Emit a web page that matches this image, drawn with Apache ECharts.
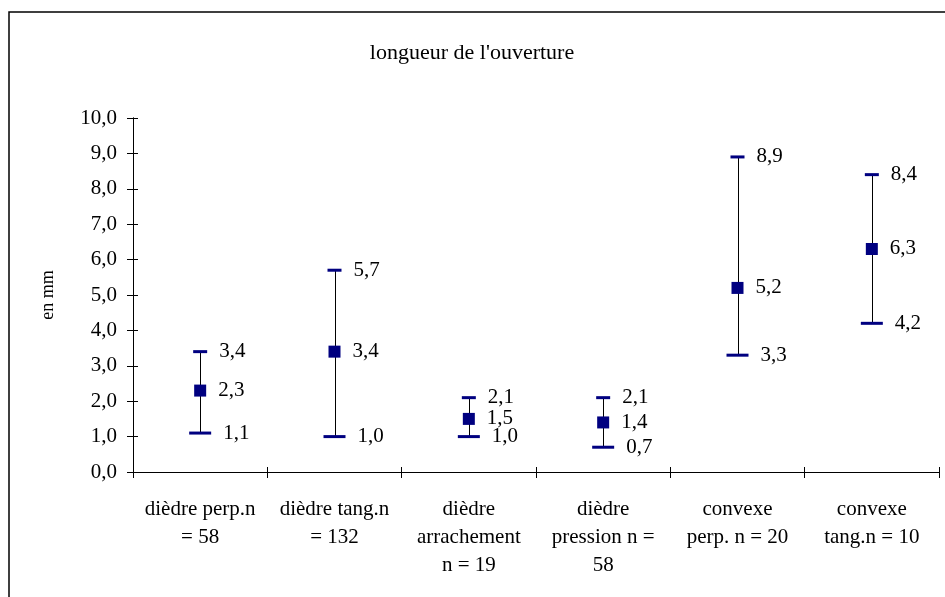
<!DOCTYPE html>
<html>
<head>
<meta charset="utf-8">
<script src="https://cdn.jsdelivr.net/npm/echarts@6/dist/echarts.min.js"></script>
<style>
  html, body { margin: 0; padding: 0; background: #fff; }
  #chart { width: 945px; height: 597px; }
</style>
</head>
<body>
<div id="chart"></div>
<script>
// Opening length per edge type: max, mean and min, in mm
const categories = [
  'dièdre perp.n\n= 58',
  'dièdre tang.n\n= 132',
  'dièdre\narrachement\nn = 19',
  'dièdre\npression n =\n58',
  'convexe\nperp. n = 20',
  'convexe\ntang.n = 10'
];
const maxValues  = [3.4, 5.7, 2.1, 2.1, 8.9, 8.4];
const meanValues = [2.3, 3.4, 1.5, 1.4, 5.2, 6.3];
const minValues  = [1.1, 1.0, 1.0, 0.7, 3.3, 4.2];
const yTicks = [0, 1, 2, 3, 4, 5, 6, 7, 8, 9, 10];

const FONT = '"Liberation Serif", "Times New Roman", serif';
const NAVY = '#000080';
const fmt = v => v.toFixed(1).replace('.', ',');

const chart = echarts.init(document.getElementById('chart'), null, { renderer: 'canvas' });

const markLabel = {
  show: true,
  position: 'right',
  distance: 12,
  color: '#000',
  fontFamily: FONT,
  fontSize: 21,
  formatter: p => fmt(p.value)
};

const whiskers = categories.map((c, i) => [i, minValues[i], maxValues[i]]);

// Second axis of each direction only carries the inward half of the tick marks
const innerTicks = { show: true, inside: true, length: 5, lineStyle: { color: '#000', width: 1 } };

chart.setOption({
  animation: false,
  backgroundColor: '#fff',
  title: {
    text: "longueur de l'ouverture",
    left: 467,
    textAlign: 'center',
    top: 37,
    textStyle: { fontFamily: FONT, fontSize: 22, fontWeight: 'normal', color: '#000' }
  },
  graphic: [{
    type: 'rect',
    shape: { x: 9, y: 12, width: 950, height: 600 },
    style: { fill: 'none', stroke: '#000', lineWidth: 1.5 },
    silent: true
  }],
  grid: { left: 133, right: 6, top: 118, bottom: 125 },
  xAxis: [{
    type: 'category',
    data: categories,
    axisLine: { lineStyle: { color: '#000', width: 1 } },
    axisTick: { show: true, length: 6, lineStyle: { color: '#000' } },
    axisLabel: {
      color: '#000', fontFamily: FONT, fontSize: 21, lineHeight: 28,
      margin: 23, interval: 0
    },
    splitLine: { show: false }
  }, {
    type: 'category',
    data: categories,
    position: 'bottom',
    axisLine: { show: true, lineStyle: { color: '#000', width: 1 } },
    axisTick: innerTicks,
    axisLabel: { show: false },
    splitLine: { show: false }
  }],
  yAxis: [{
    type: 'value',
    min: yTicks[0],
    max: yTicks[yTicks.length - 1],
    interval: 1,
    name: 'en mm',
    nameLocation: 'middle',
    nameGap: 76,
    nameTextStyle: { color: '#000', fontFamily: FONT, fontSize: 18 },
    axisLine: { show: true, lineStyle: { color: '#000', width: 1 } },
    axisTick: { show: true, length: 6, lineStyle: { color: '#000' } },
    axisLabel: { color: '#000', fontFamily: FONT, fontSize: 21, margin: 16, formatter: fmt },
    splitLine: { show: false }
  }, {
    type: 'value',
    min: yTicks[0],
    max: yTicks[yTicks.length - 1],
    interval: 1,
    position: 'left',
    axisLine: { show: true, lineStyle: { color: '#000', width: 1 } },
    axisTick: innerTicks,
    axisLabel: { show: false },
    splitLine: { show: false }
  }],
  series: [
    {
      type: 'custom',
      data: whiskers,
      encode: { x: 0, y: [1, 2] },
      z: 1,
      renderItem: (params, api) => {
        const lo = api.coord([api.value(0), api.value(1)]);
        const hi = api.coord([api.value(0), api.value(2)]);
        const x = Math.round(lo[0]) + 0.5;
        return {
          type: 'line',
          shape: { x1: x, y1: lo[1], x2: x, y2: hi[1] },
          style: { stroke: '#000', lineWidth: 1 }
        };
      }
    },
    {
      type: 'scatter',
      data: maxValues,
      symbol: 'rect',
      symbolSize: [14, 3],
      itemStyle: { color: NAVY, opacity: 1 },
      label: markLabel,
      z: 3
    },
    {
      type: 'scatter',
      data: meanValues,
      symbol: 'rect',
      symbolSize: [12, 12],
      itemStyle: { color: NAVY, opacity: 1 },
      label: markLabel,
      z: 3
    },
    {
      type: 'scatter',
      data: minValues,
      symbol: 'rect',
      symbolSize: [22, 3],
      itemStyle: { color: NAVY, opacity: 1 },
      label: markLabel,
      z: 3
    }
  ]
});
</script>
</body>
</html>
